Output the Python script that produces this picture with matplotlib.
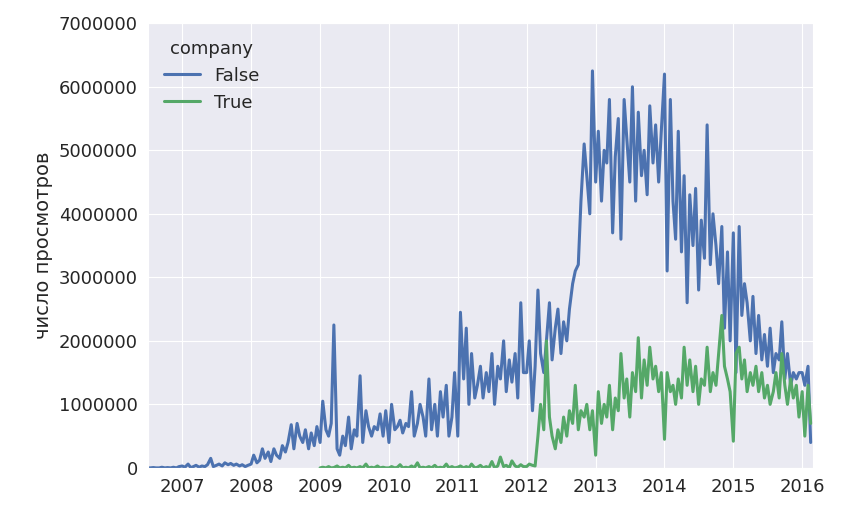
import numpy as np
import pandas as pd
import matplotlib
matplotlib.use("Agg")
import matplotlib.pyplot as plt
import matplotlib.dates as mdates
import seaborn as sns

sns.set_style("darkgrid")
plt.rcParams["font.family"] = ["DejaVu Sans"]

k = 1e3
false_vals = [
    0, 0, 5, 0, 0, 10, 0, 5, 0, 10, 0, 20,
    30, 10, 60, 5, 20, 40, 10, 30, 20, 50, 150, 20, 40, 60, 30, 80, 50, 70, 40, 60, 30, 50, 20, 40,
    60, 200, 80, 120, 300, 150, 250, 100, 300, 200, 150, 350, 250, 400, 680, 300, 700, 500, 400, 600, 300, 550, 350, 650,
    400, 1050, 600, 500, 700, 2250, 300, 200, 500, 350, 800, 300, 600, 500, 1450, 400, 900, 650, 500, 650, 600, 850, 500, 900,
    400, 1000, 600, 650, 750, 550, 700, 650, 1200, 500, 700, 1000, 800, 500, 1400, 600, 1000, 500, 1200, 800, 1300, 500, 800, 1500,
    500, 2450, 1400, 2200, 1000, 1800, 1100, 1300, 1600, 1100, 1500, 1200, 1800, 1000, 1600, 1400, 2000, 1200, 1700, 1350, 1800, 1100, 2600, 1500,
    1500, 2000, 900, 1600, 2800, 1800, 1500, 2000, 2600, 1700, 2200, 2500, 1800, 2300, 2000, 2500, 2900, 3100, 3200, 4200, 5100, 4600, 4000, 6250,
    4500, 5300, 4200, 5000, 4800, 5800, 3700, 4900, 5500, 3600, 5800, 5200, 4500, 6000, 4200, 5600, 4600, 5000, 4300, 5700, 4800, 5400, 4500, 5300,
    6200, 3100, 5800, 4200, 3600, 5300, 3400, 4600, 2600, 4300, 3500, 4400, 2800, 3900, 3300, 5400, 3200, 4000, 3500, 2900, 3800, 2200, 3400, 2000,
    3700, 1500, 3800, 2400, 2900, 2600, 2000, 2700, 1800, 2400, 1700, 2100, 1600, 2200, 1500, 1800, 1700, 2300, 1400, 1800, 1300, 1500, 1400, 1500,
    1500, 1300, 1600, 400,
]
true_vals = [
    0, 10, 0, 20, 0, 5, 30, 0, 10, 0, 40, 0, 10, 0, 20, 0, 60, 0, 10, 0, 30, 0, 10, 0,
    0, 20, 0, 10, 50, 0, 10, 0, 30, 0, 80, 0, 10, 0, 20, 0, 40, 0, 10, 0, 60, 0, 20, 0,
    10, 30, 0, 20, 0, 60, 0, 10, 40, 0, 20, 0, 100, 0, 30, 170, 20, 40, 0, 110, 30, 10, 50, 20,
    20, 60, 40, 30, 500, 1000, 600, 2000, 800, 500, 300, 600, 400, 800, 500, 900, 700, 1300, 600, 900, 800, 1000, 600, 900,
    200, 1200, 700, 1000, 800, 1300, 600, 1100, 900, 1800, 1100, 1400, 800, 1500, 1200, 2050, 1100, 1700, 1300, 1900, 1400, 1600, 1200, 1500,
    450, 1500, 1200, 1300, 1000, 1400, 1100, 1900, 1300, 1700, 1200, 1600, 1000, 1400, 1300, 1900, 1200, 1500, 1300, 1800, 2400, 1600, 1400, 1200,
    420, 1800, 1900, 1400, 1700, 1200, 1500, 1300, 1600, 1200, 1500, 1100, 1300, 1000, 1200, 1500, 1100, 1800, 1300, 1000, 1400, 1100, 1300, 800,
    1200, 500, 1300, 700,
]
false_dates = pd.date_range("2006-07-01", periods=len(false_vals), freq="SMS")
true_dates = pd.date_range("2009-01-01", periods=len(true_vals), freq="SMS")

fig, ax = plt.subplots(figsize=(8.43, 5.17), dpi=100)
ax.plot(false_dates, np.array(false_vals) * k, color="#4C72B0", lw=2.2, label="False")
ax.plot(true_dates, np.array(true_vals) * k, color="#55A868", lw=2.2, label="True")

ax.set_xlim(pd.Timestamp("2006-07-01"), pd.Timestamp("2016-03-01"))
ax.set_ylim(0, 7e6)
ax.set_yticks(np.arange(0, 7000001, 1000000))
ax.ticklabel_format(axis="y", style="plain")
ax.xaxis.set_major_locator(mdates.YearLocator())
ax.xaxis.set_major_formatter(mdates.DateFormatter("%Y"))
ax.tick_params(labelsize=13)
ax.set_ylabel("число просмотров", fontsize=14)
ax.set_xlabel("")
leg = ax.legend(title="company", loc="upper left", fontsize=13, title_fontsize=13, frameon=False)

fig.subplots_adjust(left=0.175, right=0.965, top=0.955, bottom=0.095)
fig.savefig("out.png", dpi=100)
